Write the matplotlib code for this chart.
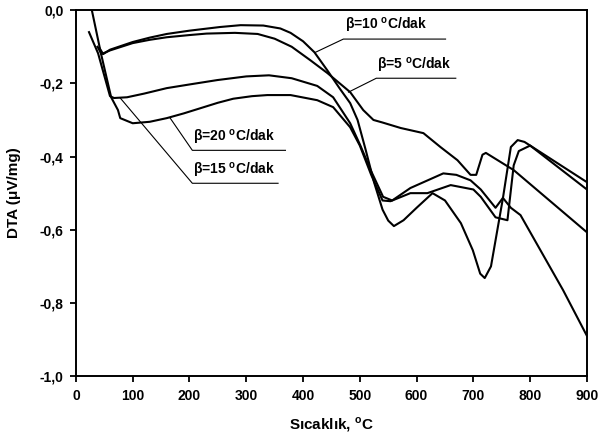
import matplotlib
matplotlib.use('Agg')
import matplotlib.pyplot as plt

plt.rcParams['font.family'] = ['Liberation Sans', 'DejaVu Sans']
plt.rcParams['font.weight'] = 'bold'

# beta = 5 C/dak
t5 = [38, 45, 60, 100, 130, 160, 200, 230, 280, 320, 350, 380, 413, 443,
      483, 506, 524, 540, 572, 612, 642, 672, 695, 705, 716, 722, 771, 900]
d5 = [-0.10, -0.12, -0.11, -0.09, -0.081, -0.074, -0.068, -0.064, -0.062,
      -0.065, -0.078, -0.10, -0.137, -0.172, -0.224, -0.273, -0.30, -0.307,
      -0.322, -0.336, -0.374, -0.41, -0.45, -0.45, -0.395, -0.39, -0.437,
      -0.607]

# beta = 10 C/dak
t10 = [42, 48, 60, 100, 130, 160, 200, 254, 290, 330, 360, 378, 400, 420,
       443, 465, 483, 496, 510, 525, 540, 550, 560, 577, 600, 628, 650, 678,
       699, 712, 720, 731, 752, 766, 778, 790, 900]
d10 = [-0.105, -0.12, -0.108, -0.087, -0.075, -0.065, -0.056, -0.046, -0.041,
       -0.042, -0.05, -0.062, -0.085, -0.115, -0.165, -0.215, -0.254, -0.30,
       -0.38, -0.47, -0.545, -0.575, -0.59, -0.574, -0.54, -0.50, -0.52,
       -0.582, -0.656, -0.72, -0.732, -0.70, -0.514, -0.374, -0.355, -0.36,
       -0.47]

# beta = 15 C/dak
t15 = [23, 39, 60, 67, 90, 120, 160, 200, 249, 300, 340, 380, 410, 425, 453,
       483, 501, 520, 541, 557, 589, 647, 670, 695, 713, 739, 752, 766, 783,
       858, 900]
d15 = [-0.06, -0.118, -0.235, -0.24, -0.238, -0.228, -0.213, -0.203, -0.191,
       -0.181, -0.178, -0.186, -0.20, -0.207, -0.238, -0.309, -0.37, -0.44,
       -0.51, -0.52, -0.486, -0.446, -0.45, -0.465, -0.49, -0.54, -0.513,
       -0.54, -0.56, -0.765, -0.89]

# beta = 20 C/dak
t20 = [28, 44, 62, 74, 78, 100, 130, 160, 190, 219, 250, 277, 310, 337, 378,
       425, 453, 483, 500, 520, 540, 554, 589, 619, 660, 700, 713, 739, 760,
       771, 780, 800, 900]
d20 = [0.0, -0.118, -0.238, -0.273, -0.295, -0.309, -0.305, -0.295, -0.282,
       -0.268, -0.253, -0.242, -0.235, -0.232, -0.232, -0.246, -0.265, -0.32,
       -0.37, -0.45, -0.52, -0.522, -0.50, -0.50, -0.478, -0.49, -0.51,
       -0.566, -0.574, -0.424, -0.385, -0.37, -0.49]

series = [(t5, d5), (t10, d10), (t15, d15), (t20, d20)]

# label text, point on curve, underline start/end x, underline y
labels = ['β=10 $^{\\mathregular{o}}$C/dak', 'β=5 $^{\\mathregular{o}}$C/dak',
          'β=20 $^{\\mathregular{o}}$C/dak', 'β=15 $^{\\mathregular{o}}$C/dak']
lab_pt = [(422, -0.115), (480, -0.224), (166, -0.295), (78, -0.240)]
lab_x0 = [471, 529, 205, 205]
lab_x1 = [651, 669, 369, 356]
lab_y = [-0.079, -0.186, -0.383, -0.473]

xticks = [0, 100, 200, 300, 400, 500, 600, 700, 800, 900]
yticks = [0.0, -0.2, -0.4, -0.6, -0.8, -1.0]
ytick_labels = ['0,0', '-0,2', '-0,4', '-0,6', '-0,8', '-1,0']

fig = plt.figure(figsize=(5.98, 4.42), dpi=100)
ax = fig.add_axes([0.127, 0.149, 0.8545, 0.828])

for t, d in series:
    ax.plot(t, d, color='black', lw=1.5, solid_joinstyle='round')

for lab, pt, x0, x1, y in zip(labels, lab_pt, lab_x0, lab_x1, lab_y):
    ax.plot([pt[0], x0, x1], [pt[1], y, y], color='black', lw=0.8)
    ax.text(x0 + 2, y + 0.01, lab, fontsize=10, fontweight='bold',
            ha='left', va='bottom')

ax.set_xlim(0, 900)
ax.set_ylim(-1.0, 0.0)
ax.set_xticks(xticks)
ax.set_xticklabels([str(x) for x in xticks])
ax.set_yticks(yticks)
ax.set_yticklabels(ytick_labels)
ax.tick_params(direction='out', length=4, width=1.3, labelsize=10, pad=5)
for s in ax.spines.values():
    s.set_linewidth(1.4)

fig.text(14 / 598, 1 - 193 / 442, 'DTA (μV/mg)', rotation=90, fontsize=11,
         fontweight='bold', ha='center', va='center')
fig.text(331 / 598, 1 - 425 / 442, 'Sıcaklık, $^{\\mathregular{o}}$C',
         fontsize=11, fontweight='bold', ha='center', va='center')

fig.savefig('out.png', dpi=100)
